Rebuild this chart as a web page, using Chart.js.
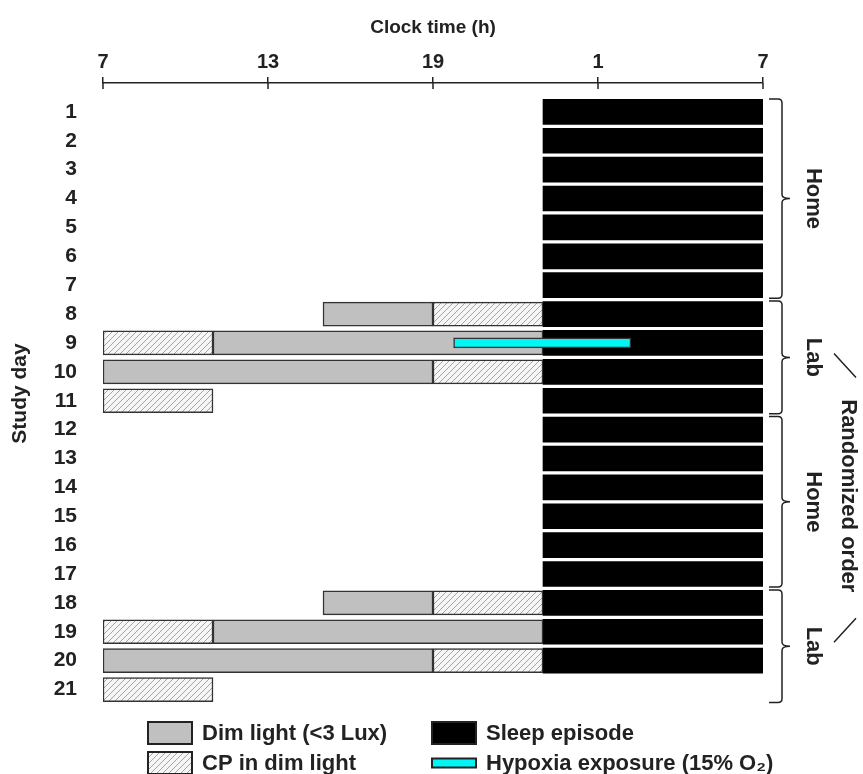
<!DOCTYPE html>
<html>
<head>
<meta charset="utf-8">
<title>Study protocol</title>
<script src="https://cdn.jsdelivr.net/npm/chart.js@4.4.1/dist/chart.umd.min.js"></script>
<style>
  html, body { margin: 0; padding: 0; background: #fff; }
  #wrap { width: 863px; height: 774px; }
</style>
</head>
<body>
<div id="wrap"><canvas id="chart" width="863" height="774"></canvas></div>
<script>
// hours on a 7..31 axis (31 = 7 next morning)
const clockTicks = [7, 13, 19, 25, 31];
const studyDays = [1, 2, 3, 4, 5, 6, 7, 8, 9, 10, 11, 12, 13, 14, 15, 16, 17, 18, 19, 20, 21];

// [day, start, end]
const sleepEpisodes = [
  [1, 23, 31], [2, 23, 31], [3, 23, 31], [4, 23, 31], [5, 23, 31], [6, 23, 31], [7, 23, 31],
  [8, 23, 31], [9, 23, 31], [10, 23, 31], [11, 23, 31], [12, 23, 31], [13, 23, 31], [14, 23, 31],
  [15, 23, 31], [16, 23, 31], [17, 23, 31], [18, 23, 31], [19, 23, 31], [20, 23, 31]
];
const dimLight = [[8, 15, 19], [9, 11, 23], [10, 7, 19], [18, 15, 19], [19, 11, 23], [20, 7, 19]];
const cpDimLight = [[8, 19, 23], [9, 7, 11], [10, 19, 23], [11, 7, 11], [18, 19, 23], [19, 7, 11], [20, 19, 23], [21, 7, 11]];
const hypoxia = [[9, 19.75, 26.2]];

// brackets on the right: [first day, last day, label]
const groups = [[1, 7, 'Home'], [8, 11, 'Lab'], [12, 17, 'Home'], [18, 21, 'Lab']];

const FONT = "'Liberation Sans', Arial, Helvetica, sans-serif";
const INK = '#222';

function toBars(rows) {
  return rows.map(r => ({ y: r[0], x: [r[1], r[2]] }));
}

// diagonal hatch for "CP in dim light"
function hatch() {
  const c = document.createElement('canvas');
  c.width = 6; c.height = 6;
  const g = c.getContext('2d');
  g.fillStyle = '#f6f6f6';
  g.fillRect(0, 0, 6, 6);
  g.strokeStyle = '#a4a4a4';
  g.lineWidth = 1;
  g.beginPath();
  g.moveTo(-1, 7); g.lineTo(7, -1);
  g.moveTo(-1, 1); g.lineTo(1, -1);
  g.moveTo(5, 7); g.lineTo(7, 5);
  g.stroke();
  return g.createPattern(c, 'repeat');
}
const hatchFill = hatch();

const sidePlugin = {
  id: 'side',
  afterDraw(chart) {
    const ctx = chart.ctx;
    const ys = chart.scales.y;
    const xs = chart.scales.x;
    const area = chart.chartArea;
    ctx.save();

    // tick marks crossing the top axis line
    ctx.strokeStyle = INK;
    ctx.lineWidth = 1.5;
    ctx.beginPath();
    xs.ticks.forEach(t => {
      const px = Math.round(xs.getPixelForValue(t.value));
      ctx.moveTo(px, area.top);
      ctx.lineTo(px, area.top + 6);
    });
    ctx.stroke();

    // braces
    const x0 = area.right + 19;
    ctx.lineWidth = 1.5;
    ctx.font = 'bold 22px ' + FONT;
    ctx.fillStyle = INK;
    ctx.textAlign = 'center';
    ctx.textBaseline = 'middle';
    groups.forEach(gp => {
      const top = ys.getPixelForValue(gp[0] - 0.45);
      const bot = ys.getPixelForValue(gp[1] + 0.45);
      const mid = (top + bot) / 2;
      ctx.beginPath();
      ctx.moveTo(x0 - 13, top);
      ctx.lineTo(x0 - 4, top);
      ctx.quadraticCurveTo(x0, top, x0, top + 4);
      ctx.lineTo(x0, mid - 4);
      ctx.quadraticCurveTo(x0, mid, x0 + 8, mid);
      ctx.quadraticCurveTo(x0, mid, x0, mid + 4);
      ctx.lineTo(x0, bot - 4);
      ctx.quadraticCurveTo(x0, bot, x0 - 4, bot);
      ctx.lineTo(x0 - 13, bot);
      ctx.stroke();
      ctx.save();
      ctx.translate(x0 + 31, mid);
      ctx.rotate(Math.PI / 2);
      ctx.fillText(gp[2], 0, 0);
      ctx.restore();
    });

    // randomized order + pointers
    const y8 = ys.getPixelForValue(8);
    const y21 = ys.getPixelForValue(21);
    ctx.save();
    ctx.translate(x0 + 66, (y8 + y21) / 2 - 6);
    ctx.rotate(Math.PI / 2);
    ctx.fillText('Randomized order', 0, 0);
    ctx.restore();
    const labA = ys.getPixelForValue(9.5);
    const labB = ys.getPixelForValue(19.5);
    ctx.beginPath();
    ctx.moveTo(x0 + 52, labA - 4);
    ctx.lineTo(x0 + 74, labA + 20);
    ctx.moveTo(x0 + 52, labB - 4);
    ctx.lineTo(x0 + 74, labB - 28);
    ctx.stroke();

    // legend
    const ds = chart.data.datasets;
    const items = [
      [148, 733, ds[1], 22, 'Dim light (<3 Lux)'],
      [148, 763, ds[2], 22, 'CP in dim light'],
      [432, 733, ds[0], 22, 'Sleep episode'],
      [432, 763, ds[3], 9, 'Hypoxia exposure (15% O\u2082)']
    ];
    ctx.textAlign = 'left';
    ctx.textBaseline = 'middle';
    ctx.font = 'bold 22px ' + FONT;
    items.forEach(it => {
      const bx = it[0], by = it[1], d = it[2], h = it[3];
      ctx.fillStyle = d.backgroundColor;
      ctx.fillRect(bx, by - h / 2, 44, h);
      ctx.lineWidth = 2;
      ctx.strokeStyle = INK;
      ctx.strokeRect(bx, by - h / 2, 44, h);
      ctx.fillStyle = INK;
      ctx.fillText(it[4], bx + 54, by + 1);
    });
    ctx.restore();
  }
};

new Chart(document.getElementById('chart'), {
  type: 'bar',
  data: {
    datasets: [
      {
        label: 'Sleep episode',
        data: toBars(sleepEpisodes),
        backgroundColor: '#000',
        borderWidth: 0,
        barThickness: 25,
        grouped: false,
        order: 3
      },
      {
        label: 'Dim light (<3 Lux)',
        data: toBars(dimLight),
        backgroundColor: '#c0c0c0',
        borderColor: '#333',
        borderWidth: 1.5,
        borderSkipped: false,
        barThickness: 24,
        grouped: false,
        order: 2
      },
      {
        label: 'CP in dim light',
        data: toBars(cpDimLight),
        backgroundColor: hatchFill,
        borderColor: '#333',
        borderWidth: 1.5,
        borderSkipped: false,
        barThickness: 24,
        grouped: false,
        order: 2
      },
      {
        label: 'Hypoxia exposure (15% O2)',
        data: toBars(hypoxia),
        backgroundColor: '#00f5f5',
        borderColor: '#333',
        borderWidth: 1.5,
        borderSkipped: false,
        barThickness: 10,
        grouped: false,
        order: 0
      }
    ]
  },
  options: {
    indexAxis: 'y',
    responsive: false,
    animation: false,
    layout: { padding: { left: 0, top: 0, right: 100, bottom: 70 } },
    plugins: {
      legend: { display: false },
      tooltip: { enabled: false }
    },
    scales: {
      x: {
        type: 'linear',
        position: 'top',
        min: 7,
        max: 31,
        afterBuildTicks: s => { s.ticks = clockTicks.map(v => ({ value: v })); },
        afterFit: s => { s.height = 83; },
        ticks: {
          color: INK,
          font: { family: FONT, size: 20, weight: 'bold' },
          padding: 3,
          maxRotation: 0,
          callback: v => (v % 24 === 0 ? 24 : v % 24)
        },
        grid: { drawOnChartArea: false, drawTicks: true, tickLength: 6, color: INK, lineWidth: 1.5 },
        border: { display: true, color: INK, width: 1.5 },
        title: {
          display: true,
          text: 'Clock time (h)',
          color: INK,
          font: { family: FONT, size: 19, weight: 'bold' },
          padding: { top: 16, bottom: 0 }
        }
      },
      y: {
        type: 'linear',
        reverse: true,
        offset: false,
        min: 0,
        max: 21.5,
        afterBuildTicks: s => { s.ticks = studyDays.map(v => ({ value: v })); },
        afterFit: s => { s.width = 103; },
        ticks: {
          color: INK,
          autoSkip: false,
          font: { family: FONT, size: 21, weight: 'bold' },
          padding: 18
        },
        grid: { display: false },
        border: { display: false },
        title: {
          display: true,
          text: 'Study day',
          color: INK,
          font: { family: FONT, size: 21, weight: 'bold' },
          padding: { top: 8, bottom: 0 }
        }
      }
    }
  },
  plugins: [sidePlugin]
});
</script>
</body>
</html>
